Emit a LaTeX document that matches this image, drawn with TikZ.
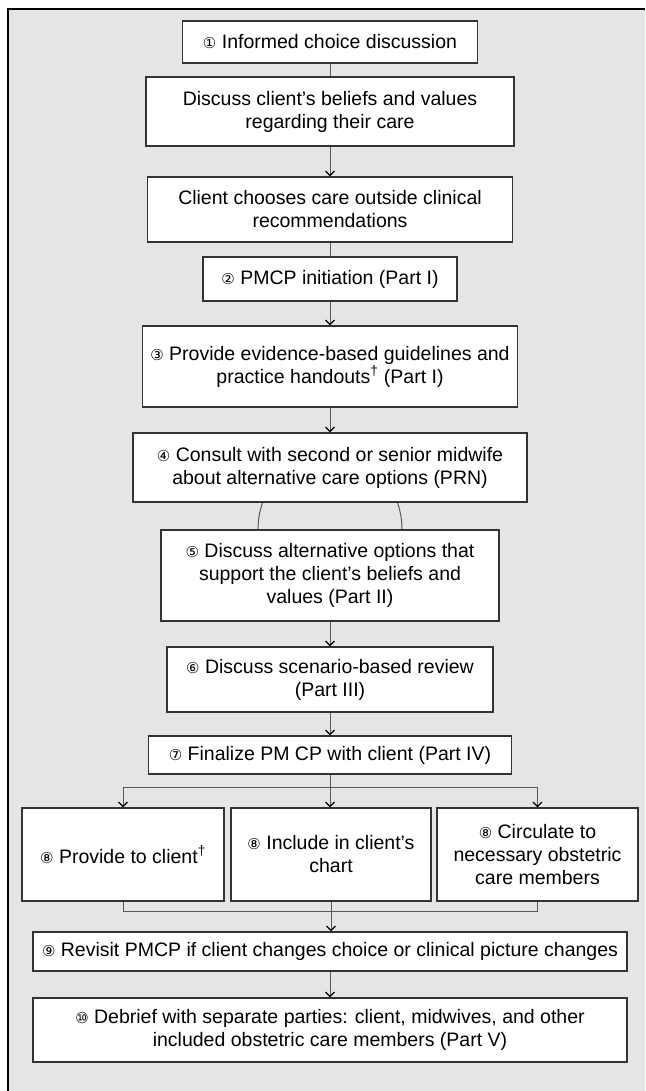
\documentclass[tikz,border=0pt]{standalone}
\usepackage{fontspec}
\setmainfont{Liberation Sans}
\newfontfamily\circfont{DejaVu Sans}
\usetikzlibrary{shapes,arrows.meta,backgrounds}
\newcommand{\cnum}[1]{{\circfont\fontsize{15}{15}\selectfont #1}}
\tikzstyle{line} = [draw, black!65, line width=1pt, -{Straight Barb[black, length=4.5pt, width=9pt, line width=1.2pt]}]
\tikzstyle{joint} = [draw, black!65, line width=1pt]
\tikzstyle{stepbox} = [rectangle, draw=black!80, line width=1.2pt, fill=white, align=center, inner sep=0pt, font=\fontsize{19.5}{23}\selectfont]

\begin{document}
\begin{tikzpicture}[x=1pt, y=1pt]
	\useasboundingbox (0,0) rectangle (645,-1091);
	\node [stepbox, minimum width=295pt, minimum height=42pt] (inform) at (330,-42) {\cnum{①} Informed choice discussion};
	
	\node [stepbox, below of=inform, node distance=69.5pt, minimum width=368pt, minimum height=69pt] (beliefs) {Discuss client’s beliefs and values\\regarding their care};
	
	\node [stepbox, below of=beliefs, node distance=98pt, minimum width=365pt, minimum height=65pt] (chooses) {Client chooses care outside clinical\\recommendations};
	
	\node [stepbox, below of=chooses, node distance=69.5pt, minimum width=254pt, minimum height=44pt] (init) {\cnum{②} PMCP initiation (Part I)};
	
	\node [stepbox, below of=init, node distance=87.5pt, minimum width=375pt, minimum height=81pt] (guide) {\cnum{③} Provide evidence-based guidelines and\\practice handouts\textsuperscript{†} (Part I)};
	
	\node [stepbox, below of=guide, node distance=101pt, minimum width=394pt, minimum height=69pt] (consult) {\cnum{④} Consult with second or senior midwife\\about alternative care options (PRN)};
	
	\node [stepbox, below of=consult, node distance=108pt, minimum width=338pt, minimum height=91pt] (altopt) {\cnum{⑤} Discuss alternative options that\\support the client’s beliefs and\\values (Part II)};
	
	\node [stepbox, below of=altopt, node distance=104pt, minimum width=326pt, minimum height=65pt] (scen) {\cnum{⑥} Discuss scenario-based review\\(Part III)};
	
	\node [stepbox, below of=scen, node distance=75.5pt, minimum width=363pt, minimum height=38pt] (final) {\cnum{⑦} Finalize PM CP with client (Part IV)};
	
	\node [stepbox, below of=final, node distance=99.5pt, xshift=1pt, minimum width=200pt, minimum height=93pt] (chart) {\cnum{⑧} Include in client’s\\chart};
	\node [stepbox, left of=chart, node distance=208pt, minimum width=202pt, minimum height=93pt] (give) {\cnum{⑧} Provide to client\textsuperscript{†}};
	\node [stepbox, right of=chart, node distance=206.5pt, minimum width=201pt, minimum height=93pt] (circ) {\cnum{⑧} Circulate to\\necessary obstetric\\care members};
	
	\node [stepbox, below of=final, node distance=196.5pt, minimum width=594pt, minimum height=39pt] (revisit) {\cnum{⑨} Revisit PMCP if client changes choice or clinical picture changes};
	
	\node [stepbox, below of=revisit, node distance=78.5pt, minimum width=594pt, minimum height=64pt] (debrief) {\cnum{⑩} Debrief with separate parties: client, midwives, and other\\included obstetric care members (Part V)};
	
	\begin{scope}[on background layer]
		\fill [black!10] (8,-9) rectangle (645,-1091);
		\draw [line width=2pt] (8,-1091) -- (8,-9) -- (645,-9);
		\draw [joint] ([xshift=-72pt]altopt.north) arc [start angle=180, end angle=0, x radius=72pt, y radius=76pt];
	\end{scope}
	
	\coordinate (split) at ([yshift=-13pt]final.south);
	\coordinate (merge) at ([yshift=-10pt]chart.south);
	
	\path [joint] (inform.south) to (beliefs.north);
	\path [line] (beliefs.south) to (chooses.north);
	\path [joint] (chooses.south) to (init.north);
	\path [line] (init.south) to (guide.north);
	\path [line] (guide.south) to (consult.north);
	\path [line] (altopt.south) to (scen.north);
	\path [line] (scen.south) to (final.north);
	
	\path [joint] (final.south) to (split);
	\path [joint] (give.north |- split) to (circ.north |- split);
	\path [line] (give.north |- split) to (give.north);
	\path [line] (split) to (split |- chart.north);
	\path [line] (circ.north |- split) to (circ.north);
	
	\path [joint] (give.south) -- (give.south |- merge) -- (circ.south |- merge) -- (circ.south);
	\path [line] (chart.south) to (chart.south |- revisit.north);
	\path [line] (revisit.south) to (debrief.north);
\end{tikzpicture}
\end{document}
